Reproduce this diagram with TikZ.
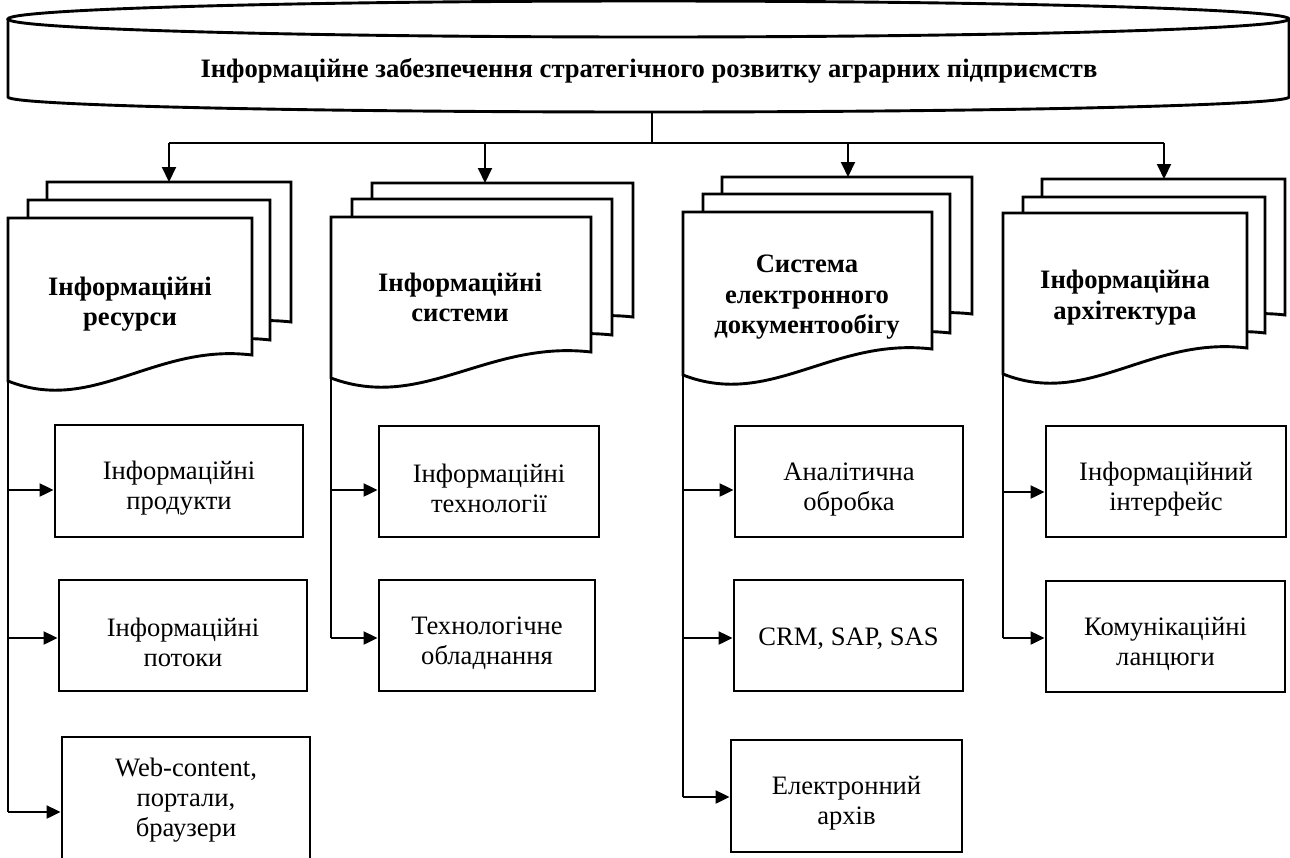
\documentclass[tikz,border=0pt]{standalone}
\usepackage{fontspec}
\setmainfont{Liberation Serif}
\usetikzlibrary{arrows.meta,calc}
\newcommand\tp{\rule{0pt}{33pt}}
\newcommand\tq{\rule{0pt}{25pt}}
\begin{document}
\begin{tikzpicture}[x=1pt,y=-1pt,
  box/.style={draw, line width=2.9pt, fill=white, align=center, inner sep=0pt,
    font=\fontsize{26.6}{30}\selectfont},
  docst/.style={draw, line width=2.9pt, fill=white, line join=miter},
  doctext/.style={align=center, inner sep=0pt, font=\fontsize{26.6}{30.5}\selectfont\bfseries},
  vline/.style={line width=1.4pt},
  harr/.style={line width=2.2pt, -{Triangle[length=14pt,width=13pt]}},
  darr/.style={line width=2pt, -{Triangle[length=15pt,width=14pt]}},
  tline/.style={line width=1.7pt}]
\newcommand\cbox[6]{\node[box, minimum width={#3-#2}, minimum height={#5-#4}] (#1) at ({(#2+#3)/2},{(#4+#5)/2}) {#6};}
\newcommand\mdoc[4]{\draw[docst] (#1,#3) -- (#2,#3) -- (#2,#4) .. controls ({#1+0.6*(#2-#1)},{#4-12}) and ({#1+0.35*(#2-#1)},{#4+60}) .. (#1,{#4+26}) -- cycle;}

\clip (0,0) rectangle (1290,857);

% banner
\draw[docst] (8,19) -- (8,97) .. controls (8,105.3) and (295,112) .. (648.5,112)
  .. controls (1002,112) and (1289,105.3) .. (1289,97) -- (1289,19);
\draw[line width=2.9pt] (648.5,19) ellipse [x radius=640.5pt, y radius=18pt];
\node[font=\fontsize{26.6}{30}\selectfont\bfseries, inner sep=0pt] (title) at (649,71)
  {Інформаційне забезпечення стратегічного розвитку аграрних підприємств};

% top connectors
\coordinate (topb) at (652,112);
\coordinate (hub) at (652,143);
\coordinate (h1) at (169,143);
\coordinate (h2) at (485,143);
\coordinate (h3) at (848,143);
\coordinate (h4) at (1164,143);
\coordinate (g1t) at (169,182);
\coordinate (g2t) at (485,183);
\coordinate (g3t) at (848,177);
\coordinate (g4t) at (1164,179);
\draw[tline] (topb) -- (hub);
\draw[tline] (h1) -- (h4);
\draw[darr] (h1) -- (g1t);
\draw[darr] (h2) -- (g2t);
\draw[darr] (h3) -- (g3t);
\draw[darr] (h4) -- (g4t);

% documents
\mdoc{47}{291}{182}{322}
\mdoc{28}{270}{200}{340}
\mdoc{8}{252}{218}{355}
\mdoc{372}{633}{183}{317}
\mdoc{352}{612}{199}{335}
\mdoc{331}{591}{217}{352}
\mdoc{722}{972}{177}{314}
\mdoc{703}{950}{194}{333}
\mdoc{683}{932}{212}{349}
\mdoc{1042}{1285}{179}{315}
\mdoc{1023}{1265}{197}{333}
\mdoc{1003}{1247}{213}{348}

\node[doctext] (d1) at (130,304) {Інформаційні\\ресурси};
\node[doctext] (d2) at (460,297.5) {Інформаційні\\системи};
\node[doctext] (d3) at (807,297.5) {Система\\електронного\\документообігу};
\node[doctext] (d4) at (1125,297.5) {Інформаційна\\архітектура};

\coordinate (g1bl) at (8,381);
\coordinate (g2bl) at (331,378);
\coordinate (g3bl) at (683,375);
\coordinate (g4bl) at (1003,374);

% child boxes
\cbox{b11}{55}{303}{425}{537}{\tp Інформаційні\\продукти}
\cbox{b12}{59}{307}{580}{691}{\tp Інформаційні\\потоки}
\cbox{b13}{62}{310}{737}{863}{Web-content,\\портали,\\браузери}
\cbox{b21}{379}{599}{426}{537}{\tp Інформаційні\\технології}
\cbox{b22}{379}{595}{580}{691}{\tp Технологічне\\обладнання}
\cbox{b31}{735}{963}{426}{537}{\tp Аналітична\\обробка}
\cbox{b32}{734}{963}{580}{691}{\tq CRM, SAP, SAS}
\cbox{b33}{731}{962}{740}{852}{\tp Електронний\\архів}
\cbox{b41}{1046}{1286}{426}{537}{\tp Інформаційний\\інтерфейс}
\cbox{b42}{1046}{1285}{581}{692}{\tp Комунікаційні\\ланцюги}

\coordinate (b11a) at ([yshift=-9pt]b11.west);
\coordinate (b12a) at ([yshift=-2.5pt]b12.west);
\coordinate (b13a) at ([yshift=-12pt]b13.west);
\coordinate (b21a) at ([yshift=-8.5pt]b21.west);
\coordinate (b22a) at ([yshift=-2.5pt]b22.west);
\coordinate (b31a) at ([yshift=-8.5pt]b31.west);
\coordinate (b32a) at ([yshift=-2.5pt]b32.west);
\coordinate (b33a) at ([yshift=-1pt]b33.west);
\coordinate (b41a) at ([yshift=-10.5pt]b41.west);
\coordinate (b42a) at ([yshift=-1.5pt]b42.west);

\draw[vline] (g1bl) -- (g1bl |- b13a);
\draw[vline] (g2bl) -- (g2bl |- b22a);
\draw[vline] (g3bl) -- (g3bl |- b33a);
\draw[vline] (g4bl) -- (g4bl |- b42a);

\draw[harr] (g1bl |- b11a) -- (b11a);
\draw[harr] (g1bl |- b12a) -- (b12a);
\draw[harr] (g1bl |- b13a) -- (b13a);
\draw[harr] (g2bl |- b21a) -- (b21a);
\draw[harr] (g2bl |- b22a) -- (b22a);
\draw[harr] (g3bl |- b31a) -- (b31a);
\draw[harr] (g3bl |- b32a) -- (b32a);
\draw[harr] (g3bl |- b33a) -- (b33a);
\draw[harr] (g4bl |- b41a) -- (b41a);
\draw[harr] (g4bl |- b42a) -- (b42a);
\end{tikzpicture}
\end{document}
